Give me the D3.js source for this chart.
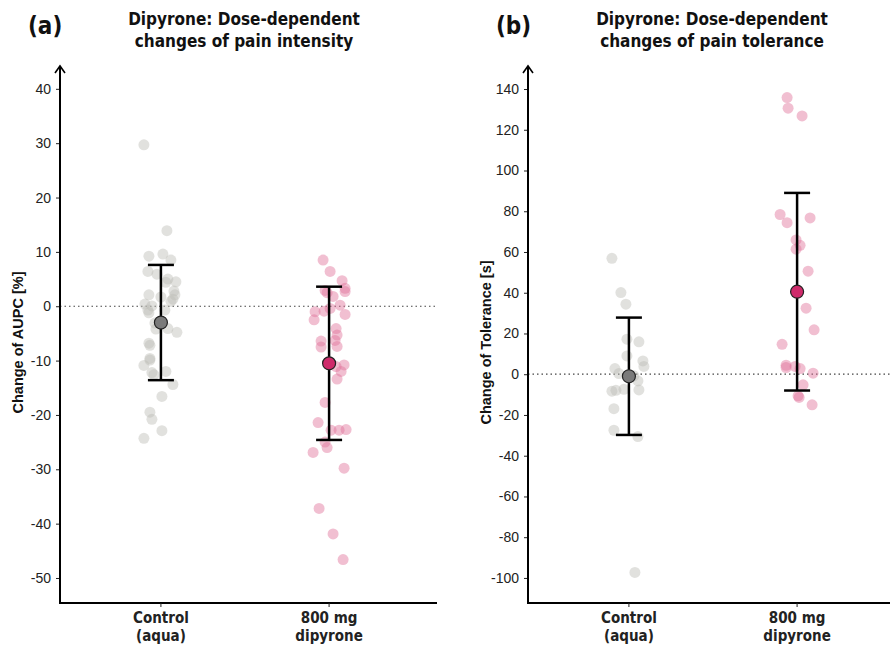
<!DOCTYPE html>
<html>
  <head>
    <meta http-equiv="Content-Type" content="text/html;charset=utf-8">
    <title>Dipyrone dose-dependent changes</title>
    <script type="text/javascript" src="https://d3js.org/d3.v7.min.js"></script>
    <style>
      body {
        margin: 0;
        background: #fff;
      }
      .tick text {
        font-family: 'Liberation Sans', Arial, sans-serif;
        font-size: 14px;
        fill: #222;
      }
      .cat {
        font-family: 'Liberation Sans Narrow', 'DejaVu Sans Condensed', sans-serif;
        font-weight: bold;
        font-size: 15px;
        fill: #222;
      }
      .title {
        font-family: 'Liberation Sans Narrow', 'DejaVu Sans Condensed', sans-serif;
        font-weight: bold;
        font-size: 17px;
        fill: #111;
      }
      .letter {
        font-family: 'Liberation Sans Narrow', 'DejaVu Sans Condensed', sans-serif;
        font-weight: bold;
        font-size: 24px;
        fill: #111;
      }
      .ylab {
        font-family: 'Liberation Sans', Arial, sans-serif;
        font-weight: bold;
        font-size: 14.5px;
        fill: #111;
      }
    </style>
  </head>
  <body>
    <div id="chart"></div>
    <script>
// two panels: pain intensity (AUPC) and pain tolerance

var width = 890,
    height = 645;

var groups = ["Control\n(aqua)", "800 mg\ndipyrone"];

// (a) change of AUPC [%]
var aupcControl = [29.7, 13.9, 9.2, 9.6, 8.5, 6.4, 5.9, 5.0, 4.5, 4.4, 2.8, 2.1, 1.7, 2.1, 1.3, 0.9, 0.4, 0.05, -0.7, -1.2, -0.7, -3.1, -4.2, -4.1, -4.8, -6.8, -7.2, -9.6, -9.9, -10.9, -12.2, -12.6, -12.0, -14.4, -16.6, -19.5, -20.8, -22.9, -24.3];
var aupcControlJit = [-17, 6, -12, 2, 10, -13, -4, 7, 15, 5, 13, -12, 0, 14, 12, 10, -16, -9, -13, -12, 4, -6, -5, 7, 16, -12, -11, -11, -11, -17, -9, -7, 5, 12, 1, -11, -9, 1, -17];
var aupcDipyrone = [8.5, 6.4, 4.7, 3.3, 2.7, 2.9, 2.5, 1.8, 0.2, -0.4, -0.9, -1.0, -1.5, -2.5, -4.1, -5.3, -6.4, -6.3, -7.4, -7.5, -10.8, -11.1, -12.0, -13.4, -17.7, -21.4, -22.8, -22.8, -22.7, -25.0, -26.0, -26.9, -29.8, -37.2, -41.9, -46.6];
var aupcDipyroneJit = [-6, 1, 13, 16, 16, -4, -2, 4, 11, 1, -5, -14, 16, -15, 7, 8, -8, 6, 8, -8, 15, 7, 12, 8, -4, -11, 2, 10, 17, -4, -2, -16, 15, -10, 4, 14];
var aupcMean = [-3.0, -10.5];
var aupcErr = [10.6, 14.1];

// (b) change of tolerance [s]
var tolControl = [56.9, 40.1, 34.4, 17.2, 15.9, 9.0, 6.5, 3.8, 2.8, 0.3, -0.8, -3.3, -7.7, -7.4, -7.9, -8.3, -16.9, -27.5, -30.6, -97.3];
var tolControlJit = [-17, -8, -3, -2, 10, -2, 14, 15, -14, -10, 5, 9, 10, -5, -13, -17, -15, -15, 9, 6];
var tolDipyrone = [135.8, 130.6, 126.8, 78.4, 74.4, 76.7, 65.9, 63.3, 61.4, 50.6, 32.4, 21.8, 14.7, 4.4, 3.3, 3.8, 2.8, 0.5, -5.2, -10.6, -11.4, -15.0];
var tolDipyroneJit = [-10, -9, 5, -17, -10, 13, -1, 3, -1, 11, 9, 17, -15, -11, -11, -2, 3, 16, 6, 1, 2, 15];
var tolMean = [-1.0, 40.5];
var tolErr = [28.8, 48.5];

var aupcTicks = d3.range(-50, 41, 10);
var tolTicks = d3.range(-100, 141, 20);

var pointFill = ["#bdbdb5", "#e07098"];
var meanFill = ["#7a7a7a", "#cf2b6b"];

var panels = [
  { letter: "(a)", title: ["Dipyrone: Dose-dependent", "changes of pain intensity"], ylab: "Change of AUPC [%]",
    x0: 60, domain: [-54.6, 44.2], ticks: aupcTicks,
    pts: [[aupcControl, aupcControlJit], [aupcDipyrone, aupcDipyroneJit]], mean: aupcMean, err: aupcErr },
  { letter: "(b)", title: ["Dipyrone: Dose-dependent", "changes of pain tolerance"], ylab: "Change of Tolerance [s]",
    x0: 528, domain: [-112.3, 151.3], ticks: tolTicks,
    pts: [[tolControl, tolControlJit], [tolDipyrone, tolDipyroneJit]], mean: tolMean, err: tolErr }
];

var yTop = 66, yBottom = 603, axisW = 377;

var svg = d3.select("#chart").append("svg")
    .attr("width", width)
    .attr("height", height);

var jitter = d3.scaleLinear().domain([-20, 20]).range([-20, 20]);

panels.forEach(function(p) {
  var g = svg.append("g").attr("transform", "translate(" + p.x0 + ",0)");

  var x = d3.scalePoint().domain(groups).range([0, 370]).padding(0.6);
  var y = d3.scaleLinear().domain(p.domain).range([yBottom, yTop]);

  // titles
  g.append("text").attr("class", "letter")
    .attr("x", -32).attr("y", 34).text(p.letter);
  g.selectAll("text.title").data(p.title).enter().append("text")
    .attr("class", "title")
    .attr("x", 184).attr("y", function(d, i) { return 25 + i * 22; })
    .attr("text-anchor", "middle")
    .text(function(d) { return d; });

  // zero line
  g.append("line")
    .attr("x1", 0).attr("x2", axisW)
    .attr("y1", y(0)).attr("y2", y(0))
    .attr("stroke", "#444").attr("stroke-width", 1.2)
    .attr("stroke-dasharray", "1.5 3");

  // y axis (plain hyphen for negatives, like the original)
  var ya = g.append("g").call(d3.axisLeft(y).tickValues(p.ticks).tickFormat(String)
      .tickSize(4).tickPadding(5).tickSizeOuter(0));
  ya.select(".domain").remove();
  ya.selectAll(".tick line").attr("stroke", "#222");
  g.append("line").attr("x1", 0).attr("x2", 0).attr("y1", yBottom + 1).attr("y2", yTop)
    .attr("stroke", "#000").attr("stroke-width", 2);
  g.append("path").attr("d", "M-5," + (yTop + 7) + "L0," + yTop + "L5," + (yTop + 7))
    .attr("fill", "none").attr("stroke", "#000").attr("stroke-width", 1.6);

  g.append("text").attr("class", "ylab")
    .attr("transform", "translate(-37," + ((yTop + yBottom) / 2 + 8) + ") rotate(-90)")
    .attr("text-anchor", "middle")
    .text(p.ylab);

  // x axis
  g.append("line").attr("x1", 0).attr("x2", axisW).attr("y1", yBottom).attr("y2", yBottom)
    .attr("stroke", "#000").attr("stroke-width", 2);
  groups.forEach(function(gr) {
    g.append("line").attr("x1", x(gr)).attr("x2", x(gr)).attr("y1", yBottom).attr("y2", yBottom + 4)
      .attr("stroke", "#222").attr("stroke-width", 1);
    gr.split("\n").forEach(function(s, i) {
      g.append("text").attr("class", "cat")
        .attr("x", x(gr)).attr("y", yBottom + 20 + i * 18)
        .attr("text-anchor", "middle").text(s);
    });
  });

  // points
  p.pts.forEach(function(set, k) {
    var cx = x(groups[k]);
    g.selectAll(".pt" + k).data(set[0]).enter().append("circle")
      .attr("class", "pt" + k)
      .attr("cx", function(d, i) { return cx + jitter(set[1][i]); })
      .attr("cy", function(d) { return y(d); })
      .attr("r", 5.5)
      .attr("fill", pointFill[k])
      .attr("fill-opacity", 0.45);
  });

  // error bars and means
  p.mean.forEach(function(m, k) {
    var cx = x(groups[k]);
    var e = p.err[k];
    g.append("line").attr("x1", cx).attr("x2", cx).attr("y1", y(m + e)).attr("y2", y(m - e))
      .attr("stroke", "#000").attr("stroke-width", 2.5);
    [m + e, m - e].forEach(function(v) {
      g.append("line").attr("x1", cx - 13).attr("x2", cx + 13).attr("y1", y(v)).attr("y2", y(v))
        .attr("stroke", "#000").attr("stroke-width", 2.5);
    });
    g.append("circle").attr("cx", cx).attr("cy", y(m)).attr("r", 6.5)
      .attr("fill", meanFill[k]).attr("stroke", "#222").attr("stroke-width", 1.2);
  });
});
    </script>
  </body>
</html>
